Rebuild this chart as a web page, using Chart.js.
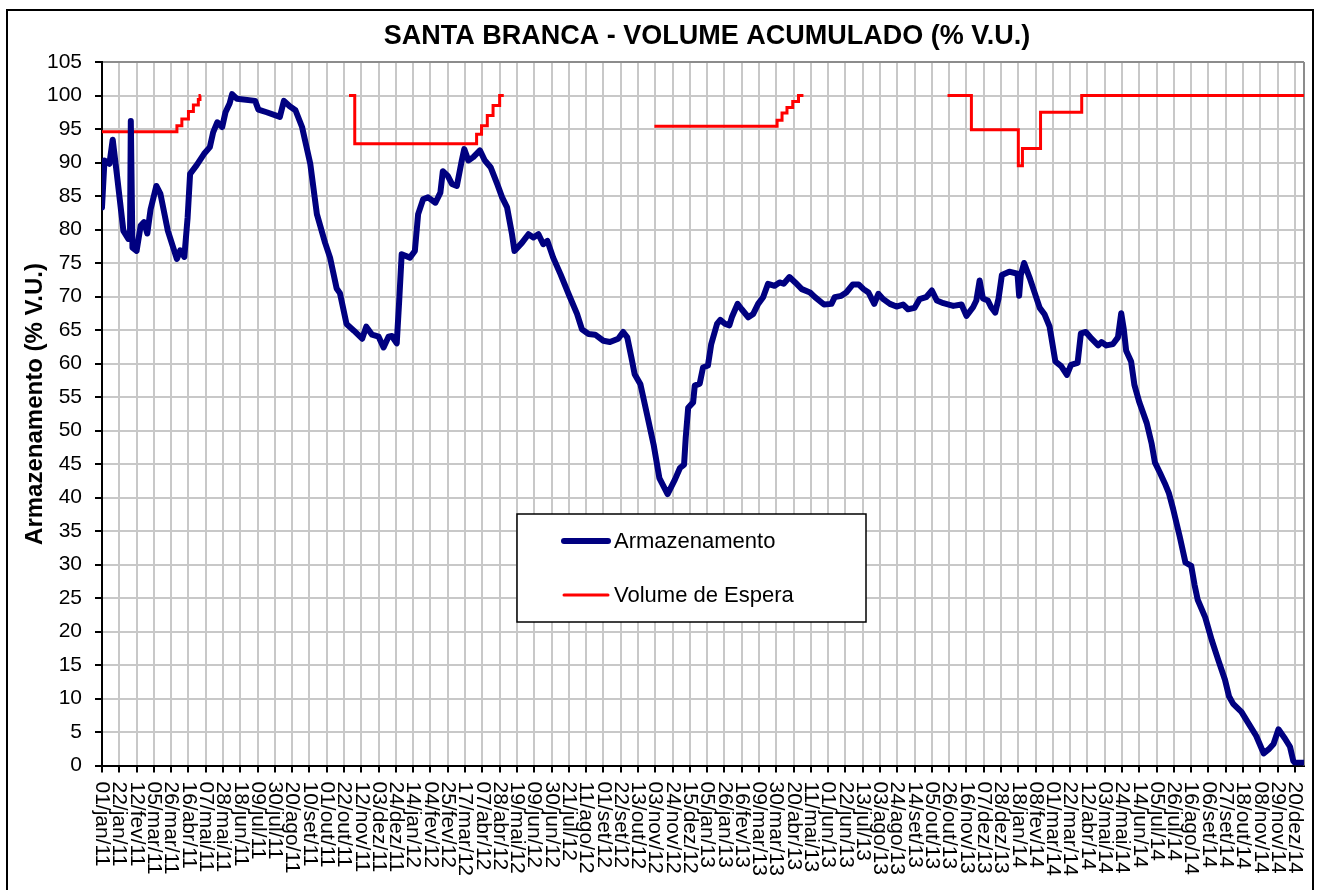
<!DOCTYPE html>
<html>
<head>
<meta charset="utf-8">
<title>Santa Branca - Volume Acumulado</title>
<script src="https://cdn.jsdelivr.net/npm/chart.js@4.4.1/dist/chart.umd.min.js"></script>
<style>
  html, body { margin: 0; padding: 0; background: #fff; }
  #wrap { position: relative; width: 1320px; height: 890px; }
</style>
</head>
<body>
<div id="wrap"><canvas id="chart" width="1320" height="890"></canvas></div>
<script>
const FONT = "'Liberation Sans', Arial, sans-serif";
const TITLE = "SANTA BRANCA - VOLUME ACUMULADO (% V.U.)";
const Y_TITLE = "Armazenamento (% V.U.)";
const TICK_STEP = 21; // days between x labels

// x labels, one every 21 days starting 01/jan/11
const tickLabels = [
  "01/jan/11", "22/jan/11", "12/fev/11", "05/mar/11", "26/mar/11", "16/abr/11", "07/mai/11",
  "28/mai/11", "18/jun/11", "09/jul/11", "30/jul/11", "20/ago/11", "10/set/11", "01/out/11",
  "22/out/11", "12/nov/11", "03/dez/11", "24/dez/11", "14/jan/12", "04/fev/12", "25/fev/12",
  "17/mar/12", "07/abr/12", "28/abr/12", "19/mai/12", "09/jun/12", "30/jun/12", "21/jul/12",
  "11/ago/12", "01/set/12", "22/set/12", "13/out/12", "03/nov/12", "24/nov/12", "15/dez/12",
  "05/jan/13", "26/jan/13", "16/fev/13", "09/mar/13", "30/mar/13", "20/abr/13", "11/mai/13",
  "01/jun/13", "22/jun/13", "13/jul/13", "03/ago/13", "24/ago/13", "14/set/13", "05/out/13",
  "26/out/13", "16/nov/13", "07/dez/13", "28/dez/13", "18/jan/14", "08/fev/14", "01/mar/14",
  "22/mar/14", "12/abr/14", "03/mai/14", "24/mai/14", "14/jun/14", "05/jul/14", "26/jul/14",
  "16/ago/14", "06/set/14", "27/set/14", "18/out/14", "08/nov/14", "29/nov/14", "20/dez/14"
];

// Armazenamento: day since 01/jan/11 -> % V.U.
const storageDays = [
  0, 3, 9, 13, 18, 26, 32, 34, 35, 37, 42, 47, 51, 55, 59, 66, 71, 80, 87, 91, 95, 100, 104, 107,
  115, 124, 131, 135, 140, 146, 150, 155, 158, 164, 186, 190, 200, 216, 221, 228, 235, 243, 253,
  261, 271, 277, 285, 289, 297, 306, 316, 321, 328, 336, 342, 348, 352, 358, 361, 364, 374, 380,
  384, 390, 396, 405, 411, 414, 420, 425, 431, 437, 440, 445, 451, 459, 465, 472, 480, 486, 492,
  498, 501, 510, 518, 524, 530, 536, 541, 548, 557, 567, 577, 583, 591, 599, 609, 617, 627, 633,
  638, 643, 647, 654, 662, 670, 677, 687, 696, 702, 707, 709, 712, 718, 720, 726, 730, 736, 740,
  747, 751, 757, 762, 765, 772, 777, 785, 791, 797, 803, 809, 817, 823, 828, 835, 842, 850, 860,
  866, 877, 886, 890, 898, 904, 912, 919, 925, 931, 938, 943, 949, 957, 965, 973, 979, 987, 993,
  1001, 1008, 1014, 1022, 1034, 1044, 1050, 1058, 1062, 1066, 1070, 1076, 1080, 1085, 1089, 1093,
  1102, 1112, 1114, 1116, 1120, 1127, 1139, 1145, 1151, 1158, 1165, 1172, 1177, 1185, 1189, 1195,
  1202, 1210, 1214, 1220, 1228, 1234, 1238, 1241, 1244, 1250, 1254, 1260, 1269, 1275, 1279, 1285,
  1291, 1296, 1301, 1309, 1316, 1323, 1327, 1331, 1340, 1348, 1356, 1364, 1369, 1374, 1384, 1392,
  1402, 1411, 1417, 1423, 1429, 1437, 1443, 1447, 1449, 1460
];
const storageValues = [
  83.3, 90.3, 89.8, 93.4, 88.3, 79.8, 78.6, 78.8, 96.2, 77.3, 76.8, 80.6, 81.1, 79.4, 83.0, 86.5, 85.3, 79.8, 77.1, 75.6, 76.9, 75.9, 81.8, 88.3,
  89.6, 91.3, 92.3, 94.5, 96.0, 95.3, 97.5, 98.8, 100.2, 99.5, 99.2, 97.9, 97.5, 96.8, 99.2, 98.4, 97.8, 95.3, 89.8,
  82.3, 78.0, 75.8, 71.2, 70.5, 65.9, 64.9, 63.7, 65.5, 64.3, 64.0, 62.4, 64.0, 64.1, 63.0, 69.4, 76.3, 75.8, 76.8,
  82.3, 84.5, 84.8, 84.0, 85.5, 88.7, 88.0, 86.8, 86.5, 90.3, 92.0, 90.3, 90.8, 91.8, 90.3, 89.3, 86.8, 84.8, 83.3,
  79.3, 76.8, 78.0, 79.3, 78.8, 79.3, 77.8, 78.3, 75.8, 73.3, 70.3, 67.4, 65.1, 64.4, 64.3, 63.4, 63.2, 63.7, 64.7,
  63.9, 60.9, 58.4, 56.9, 52.4, 47.9, 42.9, 40.5, 42.7, 44.4, 44.9, 48.9, 53.4, 54.2, 56.7, 57.0, 59.4, 59.7, 62.9,
  65.9, 66.5, 65.9, 65.7, 66.9, 68.9, 68.1, 66.9, 67.4, 68.9, 69.9, 71.9, 71.6, 72.1, 71.9, 72.9, 72.1, 71.1, 70.6,
  69.9, 68.8, 68.9, 69.9, 70.1, 70.6, 71.8, 71.8, 71.1, 70.6, 68.9, 70.4, 69.6, 68.9, 68.5, 68.8, 68.1, 68.3, 69.6,
  69.9, 70.9, 69.4, 69.0, 68.6, 68.8, 67.1, 68.4, 69.4, 72.4, 69.7, 69.4, 68.4, 67.6, 69.7, 73.2,
  73.7, 73.4, 70.1, 73.2, 75.0, 72.7, 68.3, 67.3, 65.5, 60.3, 59.6, 58.3, 59.8, 60.1, 64.5, 64.7,
  63.7, 62.7, 63.2, 62.7, 62.9, 63.9, 67.5, 65.2, 61.9, 60.3, 56.8, 54.2, 51.1, 48.0, 45.2, 43.7,
  42.1, 40.6, 38.3, 34.2, 30.3, 29.8, 27.0, 24.7, 22.1, 18.7, 15.7, 12.8, 10.3, 9.2, 8.0, 6.4,
  4.4, 1.8, 2.4, 3.2, 5.4, 4.0, 2.8, 0.7, 0.4, 0.4
];

// Volume de Espera (step changes, null = no value)
const waitDays = [
  0, 91, 97, 105, 111, 117, 119, 120, 121,
  300, 307, 455, 461, 468, 475, 483, 488, 489,
  671, 820, 826, 832, 839, 846, 852, 853,
  1027, 1056, 1113, 1118, 1140, 1190, 1460
];
const waitValues = [
  94.6, 95.5, 96.5, 97.6, 98.6, 99.4, 100, 100, null,
  100, 92.8, 94.2, 95.5, 97.0, 98.5, 100, 100, null,
  95.4, 96.3, 97.4, 98.2, 99.1, 100, 100, null,
  100, 94.9, 89.5, 92.1, 97.5, 100, 100
];

const storagePoints = storageDays.map((d, i) => ({ x: d, y: storageValues[i] }));
const waitPoints = waitDays.map((d, i) => ({ x: d, y: waitValues[i] }));

const decorations = {
  id: "decorations",
  beforeDatasetsDraw(chart) {
    const { ctx, chartArea: a } = chart;
    ctx.save();
    ctx.strokeStyle = "#8c8c8c";
    ctx.lineWidth = 2;
    ctx.beginPath();
    ctx.moveTo(a.right, a.top);
    ctx.lineTo(a.right, a.bottom);
    ctx.stroke();
    ctx.restore();
  },
  afterDraw(chart) {
    const { ctx, chartArea: a } = chart;
    const x = chart.scales.x;
    ctx.save();
    ctx.fillStyle = "#000";

    // rotated date labels, reading downwards
    ctx.font = "21px " + FONT;
    ctx.textAlign = "left";
    ctx.textBaseline = "middle";
    tickLabels.forEach((lab, i) => {
      const px = x.getPixelForValue(i * TICK_STEP);
      ctx.save();
      ctx.translate(px, a.bottom + 16);
      ctx.rotate(Math.PI / 2);
      ctx.fillText(lab, 0, 0);
      ctx.restore();
    });

    // title
    ctx.font = "bold 27px " + FONT;
    ctx.textAlign = "center";
    ctx.fillText(TITLE, (a.left + a.right) / 2 + 4, 37);

    // y axis title
    ctx.save();
    ctx.translate(35, 404);
    ctx.rotate(-Math.PI / 2);
    ctx.font = "bold 24px " + FONT;
    ctx.fillText(Y_TITLE, 0, 0);
    ctx.restore();

    // legend box
    const ds = chart.data.datasets;
    ctx.fillStyle = "#fff";
    ctx.fillRect(517, 514, 349, 108);
    ctx.strokeStyle = "#000";
    ctx.lineWidth = 1.5;
    ctx.strokeRect(517, 514, 349, 108);
    const rows = [541, 595];
    ds.forEach((d, i) => {
      ctx.strokeStyle = d.borderColor;
      ctx.lineWidth = d.borderWidth;
      ctx.lineCap = "round";
      ctx.beginPath();
      ctx.moveTo(564, rows[i]);
      ctx.lineTo(608, rows[i]);
      ctx.stroke();
      ctx.fillStyle = "#000";
      ctx.font = "22px " + FONT;
      ctx.textAlign = "left";
      ctx.fillText(d.label, 614, rows[i] + 1);
    });

    // outer frame
    ctx.strokeStyle = "#000";
    ctx.lineWidth = 2;
    ctx.strokeRect(7, 10, 1306, 900);
    ctx.restore();
  }
};

const chart = new Chart(document.getElementById("chart"), {
  type: "line",
  data: {
    datasets: [
      {
        label: "Armazenamento",
        data: storagePoints,
        borderColor: "#000080",
        borderWidth: 6,
        borderJoinStyle: "round",
        borderCapStyle: "round",
        pointRadius: 0,
        tension: 0
      },
      {
        label: "Volume de Espera",
        data: waitPoints,
        borderColor: "#ff0000",
        borderWidth: 3,
        pointRadius: 0,
        stepped: true,
        spanGaps: false
      }
    ]
  },
  options: {
    responsive: false,
    animation: false,
    layout: { padding: { top: 62, right: 16, left: 0, bottom: 0 } },
    plugins: {
      legend: { display: false },
      title: { display: false },
      tooltip: { enabled: false }
    },
    scales: {
      x: {
        type: "linear",
        min: 0,
        max: 1460,
        afterBuildTicks: (scale) => {
          scale.ticks = tickLabels.map((_, i) => ({ value: i * TICK_STEP }));
        },
        afterFit: (scale) => { scale.height = 124.5; },
        ticks: { display: false },
        grid: { color: "#c8c8c8", lineWidth: 2, tickColor: "#000", tickLength: 7, tickWidth: 2 },
        border: { display: true, color: "#000", width: 2 }
      },
      y: {
        min: 0,
        max: 105,
        afterFit: (scale) => { scale.width = 102; },
        ticks: {
          stepSize: 5,
          autoSkip: false,
          padding: 13,
          color: "#000",
          font: { family: FONT, size: 21 }
        },
        grid: {
          color: (c) => (c.tick && c.tick.value === 105 ? "#8c8c8c" : "#c8c8c8"),
          lineWidth: 2,
          tickColor: "#000",
          tickLength: 7,
          tickWidth: 2
        },
        border: { display: true, color: "#000", width: 2 }
      }
    }
  },
  plugins: [decorations]
});
</script>
</body>
</html>
